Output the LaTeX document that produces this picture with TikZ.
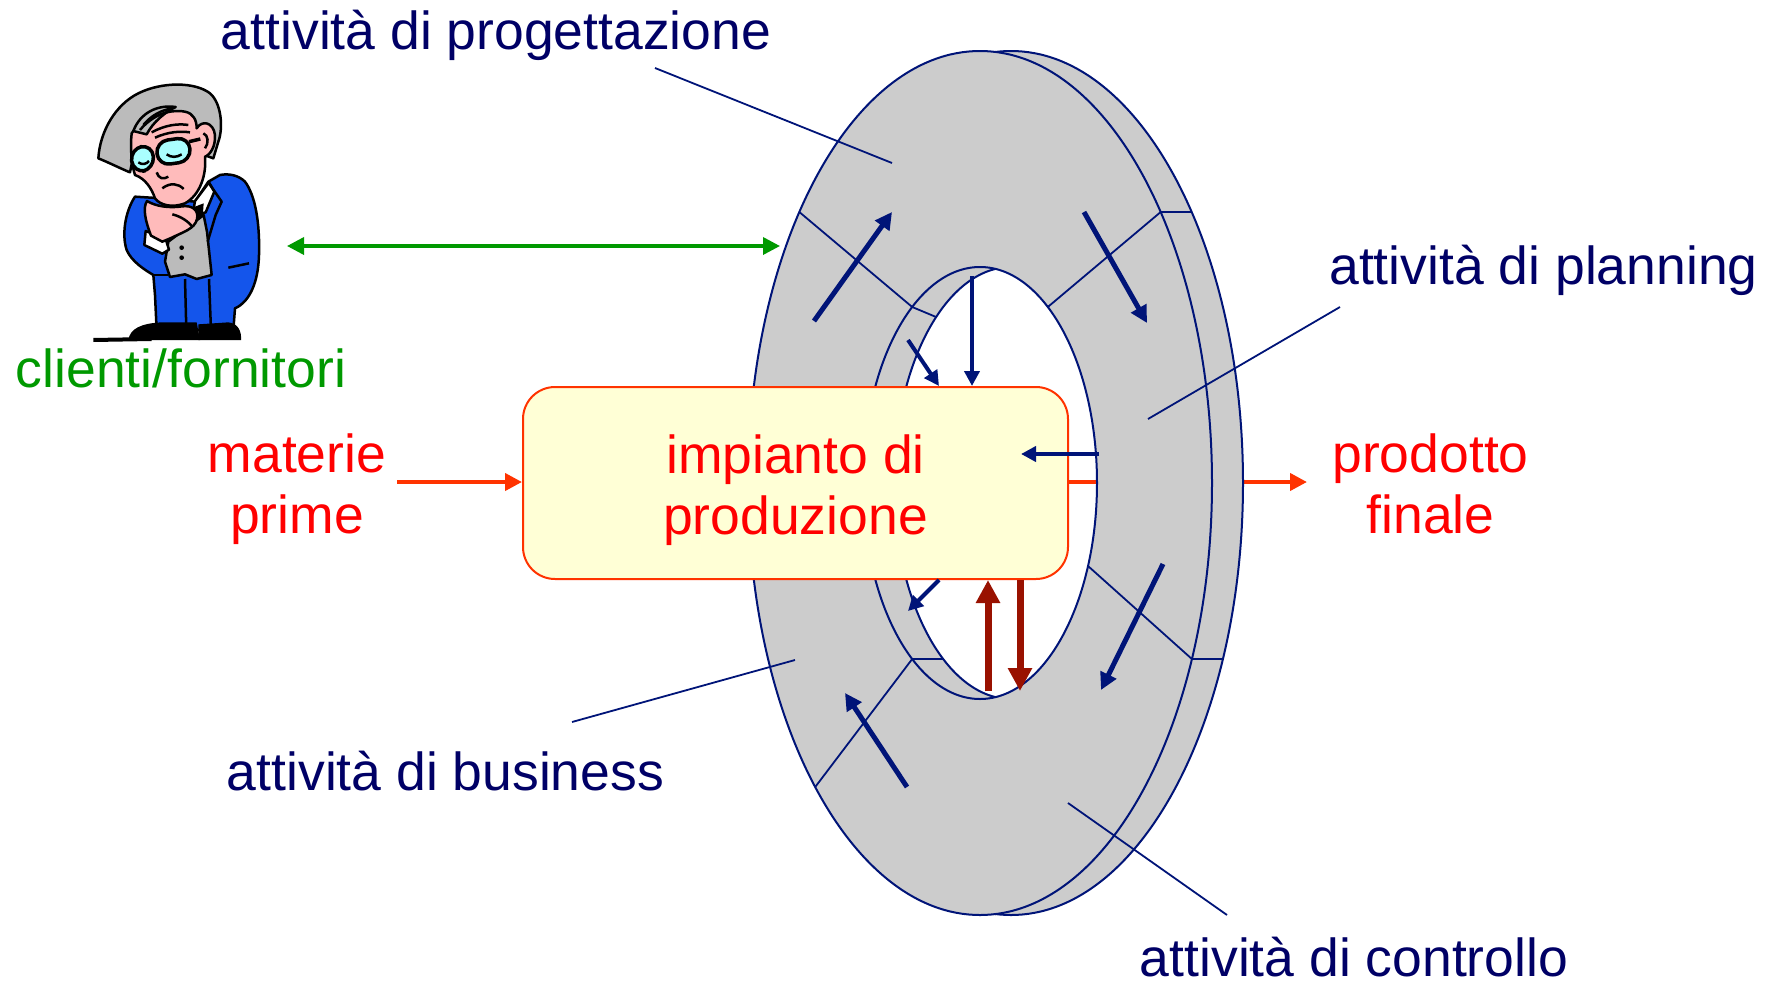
\documentclass[tikz,border=0pt]{standalone}
\usepackage{fontspec}
\setmainfont{Liberation Sans}
\usetikzlibrary{arrows.meta}

\definecolor{navytext}{RGB}{0,0,102}
\definecolor{ringline}{RGB}{0,20,120}
\definecolor{ringgrey}{RGB}{204,204,204}
\definecolor{flowred}{RGB}{255,51,0}
\definecolor{labelred}{RGB}{255,0,0}
\definecolor{plantfill}{RGB}{255,255,214}
\definecolor{ctrlred}{RGB}{153,17,0}
\definecolor{partnergreen}{RGB}{0,153,0}
\definecolor{suitblue}{RGB}{20,85,235}
\definecolor{skin}{RGB}{255,187,187}
\definecolor{hairgrey}{RGB}{187,187,187}
\definecolor{lens}{RGB}{170,255,255}

\begin{document}
\begin{tikzpicture}[x=1pt,y=-1pt,
  txt/.style={font=\fontsize{53.5}{61}\selectfont, inner sep=0pt, anchor=base},
  area/.style={txt, text=navytext},
  flowtext/.style={txt, text=labelred, align=center},
  ringedge/.style={draw=ringline, line width=2pt},
  leader/.style={draw=ringline, line width=1.8pt},
  bigflow/.style={draw=ringline, line width=5pt, -{Triangle[length=17pt,width=17pt]}},
  smallflow/.style={draw=ringline, line width=4pt, -{Triangle[length=15pt,width=15pt]}},
  ctrlflow/.style={draw=ctrlred, line width=7pt, -{Triangle[length=23pt,width=23pt]}},
  matflow/.style={draw=flowred, line width=4pt, -{Triangle[length=17pt,width=17pt]}},
  partnerflow/.style={draw=partnergreen, line width=3.5pt,
    {Triangle[length=17pt,width=17pt]}-{Triangle[length=17pt,width=17pt]}},
  plantbox/.style={draw=flowred, fill=plantfill, line width=2pt, rounded corners=32pt,
    minimum width=545pt, minimum height=192pt, inner sep=0pt},
  outline/.style={draw=black, line width=2.5pt, line join=round}
]
\useasboundingbox (0,0) rectangle (1765,983);
\fill[white] (0,0) rectangle (1765,983);

% ---------- named points ----------
\coordinate (inStart) at (397,482);
\coordinate (outEnd) at (1307,482);
\coordinate (partnerL) at (287,246);
\coordinate (partnerR) at (780,246);

% ---------- output line (runs behind the ring) ----------
\coordinate (plantE) at (1068,482);
\draw[matflow] (plantE) -- (outEnd);

% ---------- ring: grey faces with the see-through hole ----------
\foreach \hx in {980,1011} {
  \begin{scope}[even odd rule]
    \clip (0,0) rectangle (1765,983)
      (\hx,483) ellipse [x radius=117, y radius=216];
    \fill[ringgrey] (1011,483) ellipse [x radius=232, y radius=432];
  \end{scope}
}
\draw[ringedge] (1011,483) ellipse [x radius=232, y radius=432];
\foreach \hx in {980,1011} {
  \begin{scope}[even odd rule]
    \clip (0,0) rectangle (1765,983)
      (\hx,483) ellipse [x radius=117, y radius=216];
    \fill[ringgrey] (980,483) ellipse [x radius=232, y radius=432];
  \end{scope}
}
\draw[ringedge] (980,483) ellipse [x radius=232, y radius=432];
\draw[ringedge] (980,483) ellipse [x radius=117, y radius=216];
\begin{scope}
  \clip (980,483) ellipse [x radius=117, y radius=216];
  \draw[ringedge] (1011,483) ellipse [x radius=117, y radius=216];
\end{scope}

% sector dividers
\draw[leader] (799.3,212) -- (912.2,307) -- (936.1,317);
\draw[leader] (1047.8,307) -- (1160.7,212) -- (1191.7,212);
\draw[leader] (1088,566) -- (1191.9,659) -- (1222.9,659);
\draw[leader] (815.2,787) -- (912.2,659) -- (943.1,659);

% leaders to the sector labels
\coordinate (progA) at (655,68);   \coordinate (progB) at (892,163);
\coordinate (planA) at (1340,307); \coordinate (planB) at (1148,419);
\coordinate (busA) at (572,722);   \coordinate (busB) at (795,660);
\coordinate (ctrlA) at (1068,803); \coordinate (ctrlB) at (1227,915);
\draw[leader] (progA) -- (progB);
\draw[leader] (planA) -- (planB);
\draw[leader] (busA) -- (busB);
\draw[leader] (ctrlA) -- (ctrlB);

% ---------- production plant ----------
\node[plantbox] (plant) at (795.5,483) {};
\node[flowtext] (plantText) at (795.5,534) {impianto di\\produzione};

% ---------- circulation inside the ring ----------
\coordinate (ulA) at (814,321);  \coordinate (ulB) at (892,212);
\coordinate (urA) at (1084,212); \coordinate (urB) at (1147,323);
\coordinate (lrA) at (1163,564); \coordinate (lrB) at (1101,690);
\coordinate (llA) at (907,787);  \coordinate (llB) at (845,693);
\draw[bigflow] (ulA) -- (ulB);
\draw[bigflow] (urA) -- (urB);
\draw[bigflow] (lrA) -- (lrB);
\draw[bigflow] (llA) -- (llB);

\coordinate (diagIn) at (908,340);
\coordinate (vertIn) at (972,276);
\coordinate (sideIn) at (1099,454);
\coordinate (sideTip) at (1021,454);
\coordinate (diagOut) at (908,611);
\draw[smallflow] (diagIn) -- (plant.north -| 939,0);
\draw[smallflow] (vertIn) -- (plant.north -| vertIn);
\draw[smallflow] (sideIn) -- (sideTip);
\draw[smallflow] (plant.south -| 939,0) -- (diagOut);

\coordinate (ctrlUp) at (988,691);
\coordinate (ctrlDown) at (1020,691);
\draw[ctrlflow] (ctrlUp) -- (plant.south -| ctrlUp);
\draw[ctrlflow] (plant.south -| ctrlDown) -- (ctrlDown);

% ---------- material flow ----------
\draw[matflow] (inStart) -- (plant.west |- inStart);
\draw[partnerflow] (partnerL) -- (partnerR);

% ---------- labels ----------
\node[area] (tProg) at (496,49) {attività di progettazione};
\node[area] (tPlan) at (1543.5,284) {attività di planning};
\node[area] (tBus) at (445.5,790) {attività di business};
\node[area] (tCtrl) at (1354,976) {attività di controllo};
\node[txt, text=partnergreen] (tPartner) at (181,387) {clienti/fornitori};
\node[flowtext] (tIn) at (297,533) {materie\\prime};
\node[flowtext] (tOut) at (1430.5,533) {prodotto\\finale};

% ---------- thinking customer figure ----------
\begin{scope}[shift={(85,75)}, scale=1/3]
  % suit and trousers
  \filldraw[outline, fill=suitblue]
    (150,365) .. controls (120,410) and (110,480) .. (125,525)
    .. controls (140,560) and (180,585) .. (205,600)
    -- (210,660) -- (215,765) -- (445,765) -- (450,700)
    .. controls (495,680) and (520,620) .. (522,540)
    .. controls (525,440) and (510,360) .. (480,320)
    .. controls (460,300) and (430,295) .. (405,300)
    -- (370,320) -- (330,380) -- (230,370) -- cycle;
  % shirt collar and tie
  \filldraw[outline, fill=white] (330,378) -- (372,322) -- (388,350) -- (362,412) -- (322,425) -- cycle;
  \fill[black] (330,395) -- (356,385) -- (352,442) -- (326,452) -- cycle;
  % waistcoat
  \filldraw[outline, fill=hairgrey] (250,500) -- (330,440) -- (356,420) -- (366,470)
    -- (380,600) -- (335,612) -- (300,598) -- (255,606) -- (240,560) -- cycle;
  \fill[black] (290,518) circle [radius=7];
  \fill[black] (290,548) circle [radius=7];
  % jacket details
  \draw[outline] (372,325) -- (410,380) -- (392,420) -- (368,500);
  \draw[outline] (430,578) -- (492,565);
  \draw[outline] (300,612) -- (304,765);
  \draw[outline] (372,612) -- (378,765);
  \draw[outline] (205,600) -- (250,600);
  % cuff
  \filldraw[outline, fill=white] (182,468) -- (242,492) -- (252,524) -- (232,536) -- (178,510) -- cycle;
  % hair
  \filldraw[outline, fill=hairgrey]
    (40,250) .. controls (45,170) and (90,90) .. (160,55)
    .. controls (230,20) and (330,20) .. (375,55)
    .. controls (410,85) and (415,160) .. (400,200)
    -- (385,250) -- (330,230) -- (300,150) -- (160,170) -- (135,292)
    .. controls (110,282) and (70,262) .. (40,250) -- cycle;
  % face with ear
  \filldraw[outline, fill=skin]
    (140,175) .. controls (170,130) and (250,100) .. (300,110)
    .. controls (325,115) and (335,135) .. (335,160)
    .. controls (350,135) and (385,140) .. (390,180)
    .. controls (392,215) and (375,240) .. (360,245)
    .. controls (365,300) and (345,360) .. (300,385)
    .. controls (260,400) and (225,390) .. (210,370)
    .. controls (200,340) and (180,310) .. (150,300)
    .. controls (140,270) and (135,220) .. (140,175) -- cycle;
  % combed strands
  \filldraw[outline, fill=hairgrey] (145,168) .. controls (165,115) and (215,88) .. (272,96)
    .. controls (240,112) and (205,140) .. (185,178) -- cycle;
  \draw[outline] (175,150) .. controls (200,120) and (230,105) .. (262,100);
  \draw[outline] (165,165) .. controls (190,135) and (220,118) .. (250,110);
  % forehead wrinkles
  \draw[outline] (200,172) .. controls (240,150) and (280,145) .. (310,150);
  \draw[outline] (210,188) .. controls (250,170) and (285,168) .. (315,172);
  % ear detail
  \draw[outline] (355,175) .. controls (370,180) and (372,205) .. (360,220);
  % hand under the chin
  \filldraw[outline, fill=skin] (198,482) .. controls (182,440) and (172,400) .. (186,378)
    .. controls (212,394) and (252,400) .. (292,394)
    .. controls (322,390) and (342,406) .. (336,432)
    .. controls (330,462) and (292,472) .. (256,490) -- (232,500) -- cycle;
  \draw[outline] (262,418) .. controls (290,425) and (310,440) .. (322,455);
  % glasses
  \filldraw[outline, fill=lens, line width=3.5pt, rounded corners=12]
    (135,222) -- (202,208) -- (208,282) -- (145,294) -- cycle;
  \filldraw[outline, fill=lens, line width=3.5pt, rounded corners=12]
    (212,200) -- (312,186) -- (318,258) -- (220,272) -- cycle;
  \draw[outline, line width=3.5pt] (312,200) -- (346,192);
  % closed eyes, nose, mouth
  \draw[outline] (160,262) .. controls (170,270) and (185,268) .. (192,258);
  \draw[outline] (245,238) .. controls (258,248) and (275,248) .. (290,238);
  \draw[outline] (215,292) .. controls (220,310) and (235,315) .. (250,305);
  \draw[outline] (232,340) .. controls (255,322) and (280,325) .. (296,342);
  % shoes and ground
  \fill[black] (130,795) .. controls (135,760) and (170,745) .. (230,742) -- (335,742) -- (345,795) -- cycle;
  \fill[black] (340,748) -- (430,742) .. controls (460,745) and (470,770) .. (468,795) -- (340,795) -- cycle;
  \draw[black, line width=4pt] (25,795) -- (200,792);
\end{scope}
\end{tikzpicture}
\end{document}
